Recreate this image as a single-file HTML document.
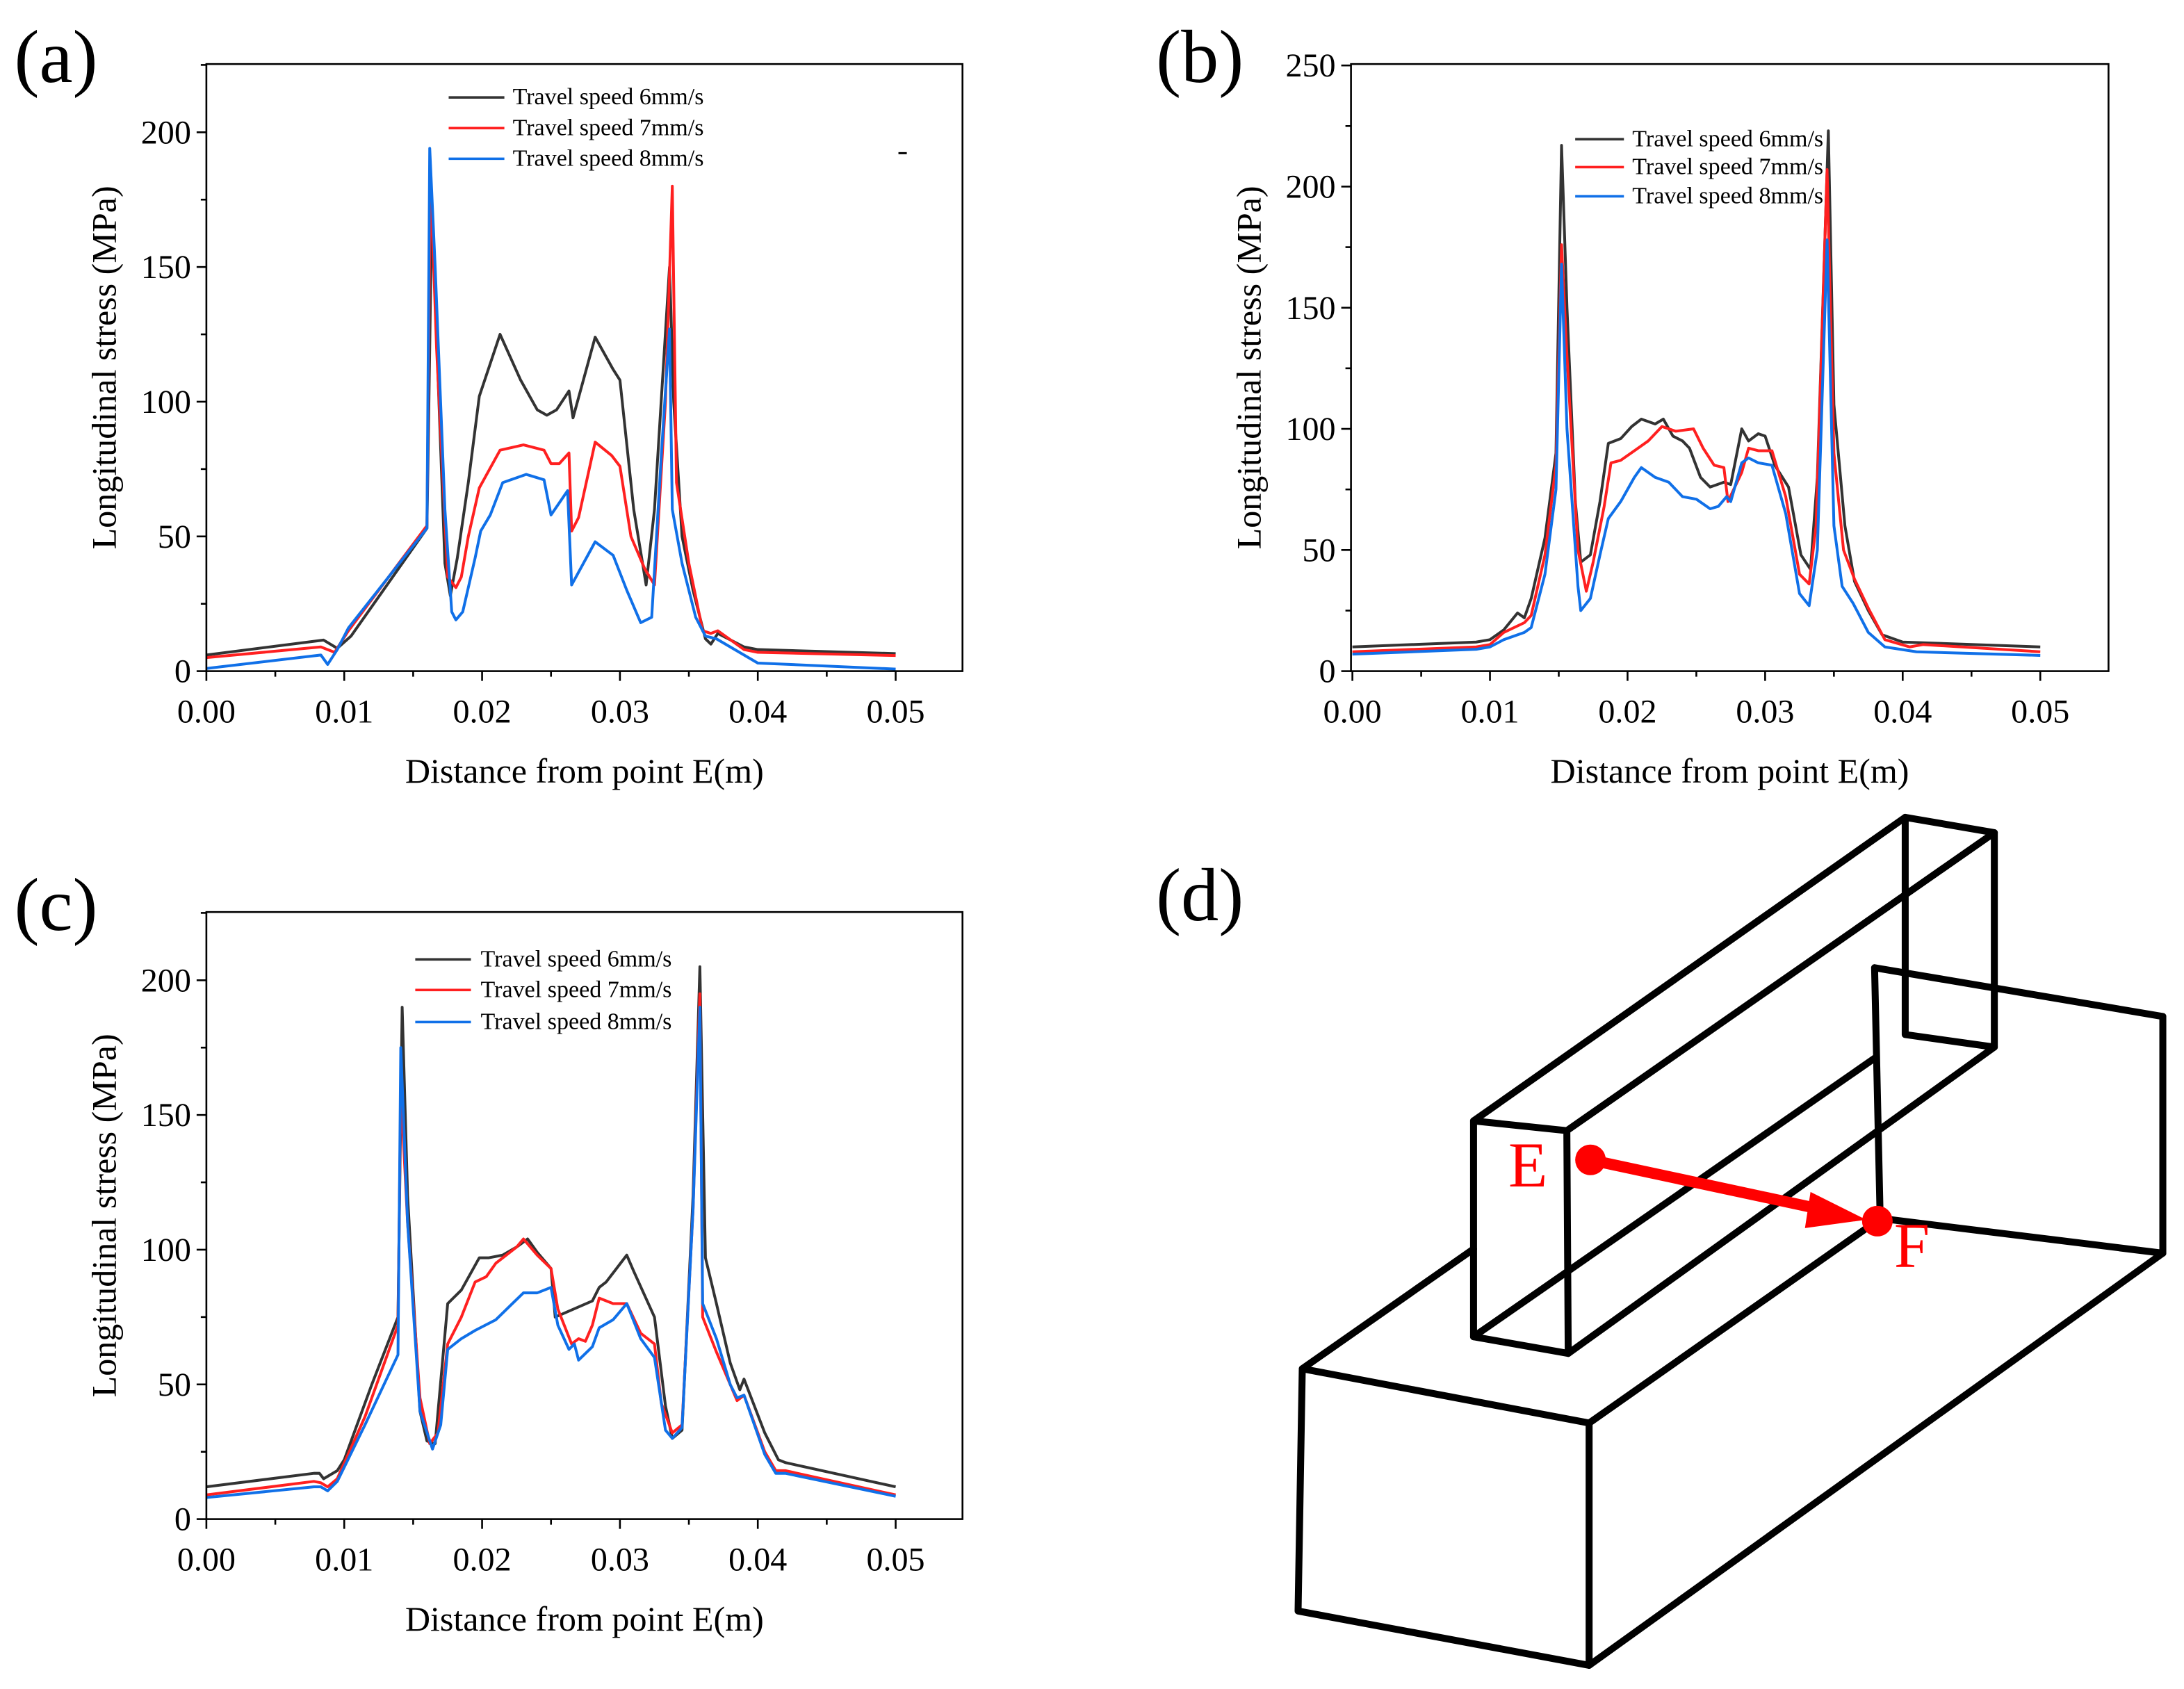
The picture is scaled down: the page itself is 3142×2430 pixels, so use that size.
<!DOCTYPE html>
<html><head><meta charset="utf-8"><style>
html,body{margin:0;padding:0;background:#fff}
svg{display:block}
text{font-family:"Liberation Serif",serif}
</style></head><body>
<svg id="root" width="3142" height="2430" viewBox="0 0 1568 1213" xmlns="http://www.w3.org/2000/svg">
<rect width="1568" height="1213" fill="#fff"/>
<g id="plots"></g>
<line x1="645" y1="110" x2="651" y2="110" stroke="#000" stroke-width="1.5"/>
<g stroke="#000" stroke-width="5" fill="none" stroke-linecap="round" stroke-linejoin="round">
<polygon points="1058,805 1125,812 1126,972 1058,960"/>
<polygon points="1368,587 1432,598 1432,752 1368,743"/>
<line x1="1058" y1="805" x2="1368" y2="587"/>
<line x1="1125" y1="812" x2="1432" y2="598"/>
<line x1="1126" y1="972" x2="1432" y2="752"/>
<line x1="1058" y1="960" x2="1346" y2="760"/>
<polygon points="935,983 1141,1022 1141,1196 932,1157"/>
<line x1="935" y1="983" x2="1058" y2="897"/>
<line x1="1141" y1="1022" x2="1346" y2="878"/>
<line x1="1346" y1="695" x2="1553" y2="730"/>
<line x1="1346" y1="695" x2="1350" y2="875"/>
<line x1="1350" y1="875" x2="1553" y2="900"/>
<line x1="1553" y1="730" x2="1553" y2="900"/>
<line x1="1141" y1="1196" x2="1553" y2="900"/>
</g>
<g>
<line x1="1142" y1="833" x2="1310" y2="869" stroke="#f00" stroke-width="8"/>
<polygon points="1300,856 1340,876 1296,882" fill="#f00"/>
<circle cx="1142" cy="833" r="11" fill="#f00"/>
<circle cx="1348" cy="877" r="11" fill="#f00"/>
<text x="1083" y="852" font-size="46" fill="#f00">E</text>
<text x="1360" y="910" font-size="46" fill="#f00">F</text>
</g>
<text x="10" y="59" font-size="54">(a)</text>
<text x="830" y="59" font-size="54">(b)</text>
<text x="10" y="668" font-size="54">(c)</text>
<text x="830" y="661" font-size="54">(d)</text>
</svg>
<script>
const seriesNames = ["Travel speed 6mm/s","Travel speed 7mm/s","Travel speed 8mm/s"];
const xTicks = [0,0.01,0.02,0.03,0.04,0.05];
const xTickLabels = ["0.00","0.01","0.02","0.03","0.04","0.05"];
const aYTicks = [0,50,100,150,200];
const bYTicks = [0,50,100,150,200,250];
const cYTicks = [0,50,100,150,200];
const a6 = [[0,6],[8.5,11.5],[9.5,8.5],[10.5,13],[16,53],[16.2,120],[16.35,175],[16.8,110],[17.3,40],[17.7,28],[18.2,42],[19,70],[19.8,102],[21.3,125],[22.8,108],[24,97],[24.7,95],[25.4,97],[26.3,104],[26.6,94],[28.2,124],[29.5,112],[30,108],[31,60],[31.9,32],[32.5,60],[33.6,150],[33.9,100],[34.5,50],[35.3,30],[36.2,12],[36.6,10],[37.1,14],[39,9],[40,8],[50,6.5]];
const a7 = [[0,5],[8.3,9],[9.3,7],[10.3,15],[16,54],[16.25,185],[16.7,120],[17.5,35],[18.1,31],[18.5,35],[19,50],[19.8,68],[21.3,82],[23,84],[24.5,82],[25,77],[25.6,77],[26.3,81],[26.5,52],[27,57],[28.2,85],[29.4,80],[30,76],[30.8,50],[31.8,38],[32.5,32],[33.3,100],[33.8,180],[34.1,70],[35,40],[36,15],[36.6,14],[37.1,15],[39,8],[40,7],[50,5.8]];
const a8 = [[0,1],[8.3,6],[8.8,2.5],[9.5,8],[10.3,16],[16,53],[16.2,194],[16.6,150],[17.3,60],[17.8,22],[18.1,19],[18.6,22],[19.5,42],[19.9,52],[20.6,58],[21.5,70],[23.2,73],[24.5,71],[25.0,58],[26.2,67],[26.5,32],[28.2,48],[29.5,43],[30.5,30],[31.5,18],[32.3,20],[33,80],[33.6,127],[33.8,60],[34.5,40],[35.5,20],[36.2,13],[37,12],[40,3],[50,0.8]];
const b6 = [[0,10],[9,12],[10,13],[11,17],[12,24],[12.5,22],[13,30],[14,55],[14.8,90],[15.2,217],[15.6,150],[16.2,70],[16.6,45],[17.3,48],[18,70],[18.6,94],[19.5,96],[20.3,101],[21,104],[22,102],[22.6,104],[23.3,97],[24,95],[24.5,92],[25.3,80],[26,76],[27,78],[27.5,77],[28.3,100],[28.8,95],[29.5,98],[30,97],[30.7,85],[31.7,76],[32.6,48],[33.3,42],[33.8,80],[34.6,223],[35,110],[35.8,60],[36.5,37],[37.5,25],[38.5,15],[40,12],[50,10]];
const b7 = [[0,8],[9,10],[10,11],[11,16],[12.5,20],[13,23],[14,48],[14.8,85],[15.2,176],[15.6,130],[16.4,50],[17,33],[17.5,45],[18.3,68],[18.8,86],[19.5,87],[20.5,91],[21.5,95],[22.5,101],[23.5,99],[24.8,100],[25.5,92],[26.3,85],[27,84],[27.3,70],[28.3,82],[28.8,92],[29.5,91],[30.5,91],[31.5,72],[32.5,40],[33.2,36],[33.7,60],[34.5,207],[35,90],[35.7,50],[36.5,38],[37.5,26],[38.7,13],[40.5,10],[41.5,11],[50,8]];
const b8 = [[0,7],[9,9],[10,10],[11,13],[12.5,16],[13,18],[14,40],[14.8,75],[15.2,168],[15.6,100],[16.4,35],[16.6,25],[17.3,30],[18,48],[18.6,63],[19.5,70],[20.5,80],[21,84],[22,80],[23,78],[24,72],[25,71],[26,67],[26.6,68],[27.2,72],[27.5,70],[28.3,86],[28.8,88],[29.5,86],[30.5,85],[31.5,65],[32.5,32],[33.2,27],[33.8,50],[34.5,178],[35,60],[35.6,35],[36.4,28],[37.5,16],[38.7,10],[41,8],[50,6.5]];
const c6 = [[0,12],[7.8,17],[8.2,17],[8.5,15],[9.5,18],[10,22],[12,50],[13.9,75],[14.2,190],[14.6,120],[15.5,40],[16,29],[16.6,28],[17.5,80],[18.5,85],[19.8,97],[20.5,97],[21.5,98],[22.5,101],[23.3,104],[24,99],[25,93],[25.3,75],[28,81],[28.5,86],[29,88],[30.5,98],[31,92],[32.5,75],[33.3,42],[33.8,30],[34.5,33],[35.3,120],[35.8,205],[36.2,97],[37,80],[38,58],[38.7,48],[39,52],[40.5,32],[41.5,22],[42,21],[50,12]];
const c7 = [[0,9],[7.8,14],[8.3,13.5],[8.8,12],[9.5,15],[11.5,38],[13.9,72],[14.1,160],[14.6,110],[15.5,45],[16.2,28],[16.8,32],[17.5,65],[18.5,75],[19.5,88],[20.3,90],[21,95],[22.5,101],[23,104],[24,98],[25,93],[25.5,78],[26.5,65],[27,67],[27.5,66],[28,72],[28.5,82],[29.5,80],[30.5,80],[31.5,69],[32.5,65],[33,43],[33.8,32],[34.5,35],[35.3,115],[35.8,195],[36,75],[37,62],[38,50],[38.5,44],[39,46],[40.5,25],[41.3,18],[42,18],[50,9]];
const c8 = [[0,8],[7.8,12],[8.3,12],[8.8,10.5],[9.5,14],[11.5,35],[13.9,61],[14.1,175],[14.6,110],[15.5,40],[16.4,26],[17,35],[17.5,63],[18.5,67],[19.5,70],[21,74],[22,79],[23,84],[24,84],[25,86],[25.5,72],[26.3,63],[26.7,65],[27,59],[28,64],[28.5,71],[29.5,74],[30.5,80],[31.5,67],[32.5,60],[33.3,33],[33.8,30],[34.5,34],[35.3,115],[35.8,190],[36,80],[37,67],[38,50],[38.5,45],[39,46],[40.5,24],[41.3,17],[42,17],[50,8.5]];

const NS="http://www.w3.org/2000/svg";
const root=document.getElementById('plots');
const colors=["#333333","#ff2020","#1070e8"];
function mk(tag,attrs,parent){const e=document.createElementNS(NS,tag);for(const k in attrs)e.setAttribute(k,attrs[k]);parent.appendChild(e);return e;}

const panels=[
 {id:"a",L:148,R:691,T:46,B:482,x0:148,x1:643,yTicks:aYTicks,yv:200,yTop200:95,series:[a6,a7,a8],leg:{x1:322,x2:362,tx:368,y:[70,92,114]},minorY:25},
 {id:"b",L:970,R:1514,T:46,B:482,x0:971,x1:1465,yTicks:bYTicks,yv:200,yTop200:134,series:[b6,b7,b8],leg:{x1:1131,x2:1166,tx:1172,y:[100,120,141]},minorY:25},
 {id:"c",L:148,R:691,T:655,B:1091,x0:148,x1:643,yTicks:cYTicks,yv:200,yTop200:704,series:[c6,c7,c8],leg:{x1:298,x2:338,tx:345,y:[689,711,734]},minorY:25}
];
panels.forEach(p=>{
 const g=mk('g',{},root);
 
 
 const sx=v=>p.x0+(v/0.05)*(p.x1-p.x0);
 const sy=v=>p.B-(v/p.yv)*(p.B-p.yTop200);
 const smm=v=>sx(v/1000);
 p.series.forEach((s,i)=>{
  const d=s.map((pt,j)=>(j?'L':'M')+smm(pt[0]).toFixed(1)+','+sy(pt[1]).toFixed(1)).join(' ');
  const path=mk('path',{d:d,fill:'none',stroke:colors[i],'stroke-width':2,'stroke-linejoin':'round'},g);
  
  
 });
 const fr=mk('rect',{x:p.L,y:p.T,width:p.R-p.L,height:p.B-p.T,fill:'none',stroke:'#000','stroke-width':1.3},g);
 
 
 for(let k=0;k<=10;k++){const v=k*0.005;const x=sx(v);if(x>p.R)continue;mk('line',{x1:x,y1:p.B,x2:x,y2:p.B+(k%2?4:7),stroke:'#000','stroke-width':1.3},g);}
 xTicks.forEach((v,i)=>{const t=mk('text',{x:sx(v),y:p.B+37,'font-size':24,'text-anchor':'middle'},g);t.textContent=xTickLabels[i];
  
  });
 const ymaxVal=(p.B-p.T)/((p.B-p.yTop200)/p.yv);
 for(let v=0;v<=ymaxVal;v+=p.minorY){const y=sy(v);mk('line',{x1:p.L,y1:y,x2:p.L-((v%50)?4:7),y2:y,stroke:'#000','stroke-width':1.3},g);}
 p.yTicks.forEach(v=>{const t=mk('text',{x:p.L-11,y:sy(v)+8,'font-size':24,'text-anchor':'end'},g);t.textContent=String(v);
  
  });
 const xt=mk('text',{x:(p.L+p.R)/2,y:p.B+80,'font-size':25,'text-anchor':'middle'},g);
 xt.textContent="Distance from point E(m)";
 
 
 const cy=(p.T+p.B)/2;const cx=p.L-65;
 const yt=mk('text',{x:cx,y:cy,'font-size':25,'text-anchor':'middle',transform:'rotate(-90 '+cx+' '+cy+')'},g);
 yt.textContent="Longitudinal stress (MPa)";
 
 
 seriesNames.forEach((n,i)=>{const y=p.leg.y[i];
  const le=mk('g',{},g);
  
  
  mk('line',{x1:p.leg.x1,y1:y,x2:p.leg.x2,y2:y,stroke:colors[i],'stroke-width':1.8},le);
  const t=mk('text',{x:p.leg.tx,y:y+5,'font-size':17},le);t.textContent=n;});
});
</script>
</body></html>
